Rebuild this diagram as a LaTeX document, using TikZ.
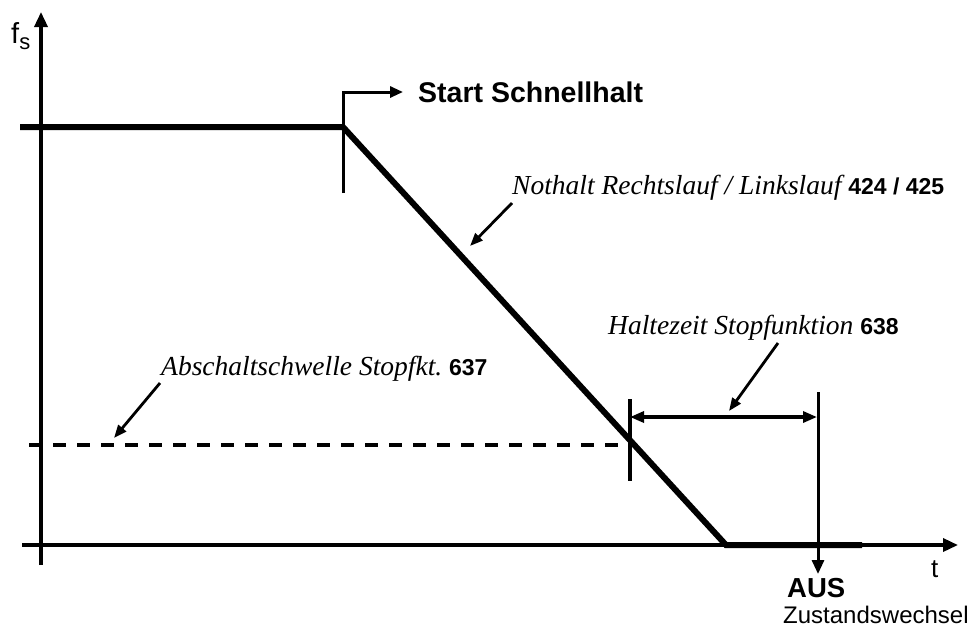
\documentclass[tikz,border=0pt]{standalone}
\usepackage{fontspec}
\setmainfont{Liberation Serif}
\setsansfont{Liberation Sans}
\usetikzlibrary{arrows.meta}
\newcommand{\bnum}[1]{{\fontsize{23}{26}\selectfont\sffamily\bfseries\upshape #1}}
\newcommand{\itl}[1]{{\fontsize{27.5}{30}\selectfont\itshape #1\ }}
\begin{document}
\begin{tikzpicture}[x=1pt,y=-1pt,
  axis/.style={line width=3.4pt,-{Triangle[length=15pt,width=13pt]}},
  curve/.style={line width=6pt},
  tickline/.style={line width=3.2pt},
  pointer/.style={line width=2.8pt,-{Triangle[length=13pt,width=10pt]}},
  dimline/.style={line width=3.2pt,{Triangle[length=14pt,width=11pt]}-{Triangle[length=14pt,width=11pt]}},
  lbl/.style={inner sep=0pt,anchor=base west},
]
\useasboundingbox (0,0) rectangle (971,630);
% axes
\coordinate (yb) at (41,565); \coordinate (yt) at (41,12);
\coordinate (xl) at (22,545); \coordinate (xr) at (958,545);
\draw[axis] (yb) -- (yt);
\draw[axis] (xl) -- (xr);
\node[lbl,font=\fontsize{29}{32}\selectfont\sffamily] (fs) at (11,43) {f\raisebox{-6pt}{\fontsize{22}{24}\selectfont s}};
\node[lbl,font=\fontsize{26}{28}\selectfont\sffamily] (t) at (931,577) {t};
% curve
\coordinate (c0) at (20,127); \coordinate (c1) at (343,127);
\coordinate (c2) at (726,545); \coordinate (c3) at (862,545);
\draw[curve] (c0) -- (c1) -- (c2) -- (c3);
% start schnellhalt
\coordinate (s0) at (343,193); \coordinate (s1) at (343,92); \coordinate (s2) at (403,92);
\draw[tickline,line width=3pt,-{Triangle[length=13pt,width=11pt]}] (s0) -- (s1) -- (s2);
\node[lbl,font=\fontsize{28.5}{32}\selectfont\sffamily\bfseries] (start) at (418,102) {Start Schnellhalt};
% nothalt
\node[lbl] (noth) at (512,194) {\itl{Nothalt Rechtslauf / Linkslauf}\bnum{424 / 425}};
\coordinate (n0) at (512,203); \coordinate (n1) at (470,246);
\draw[pointer] (n0) -- (n1);
% threshold
\coordinate (d0) at (29,445); \coordinate (d1) at (630,445);
\draw[line width=3.2pt,dash pattern=on 13pt off 11pt] (d0) -- (d1);
\node[lbl] (absch) at (161,375) {\itl{Abschaltschwelle Stopfkt.}\bnum{637}};
\coordinate (a0) at (160,383); \coordinate (a1) at (114,438);
\draw[pointer] (a0) -- (a1);
% hold time
\coordinate (h0) at (630,399); \coordinate (h1) at (630,481);
\draw[tickline] (h0) -- (h1);
\coordinate (g0) at (630,417); \coordinate (g1) at (817,417);
\draw[dimline] (g0) -- (g1);
\node[lbl] (halt) at (608,334) {\itl{Haltezeit Stopfunktion}\bnum{638}};
\coordinate (p0) at (778,343); \coordinate (p1) at (729,411);
\draw[pointer] (p0) -- (p1);
% AUS
\coordinate (u0) at (818,392); \coordinate (u1) at (818,574);
\draw[tickline,line width=3pt,-{Triangle[length=14pt,width=12pt]}] (u0) -- (u1);
\node[lbl,font=\fontsize{27.5}{30}\selectfont\sffamily\bfseries] (aus) at (787,597) {AUS};
\node[lbl,font=\fontsize{24}{28}\selectfont\sffamily] (zw) at (783,623) {Zustandswechsel};
\end{tikzpicture}
\end{document}
